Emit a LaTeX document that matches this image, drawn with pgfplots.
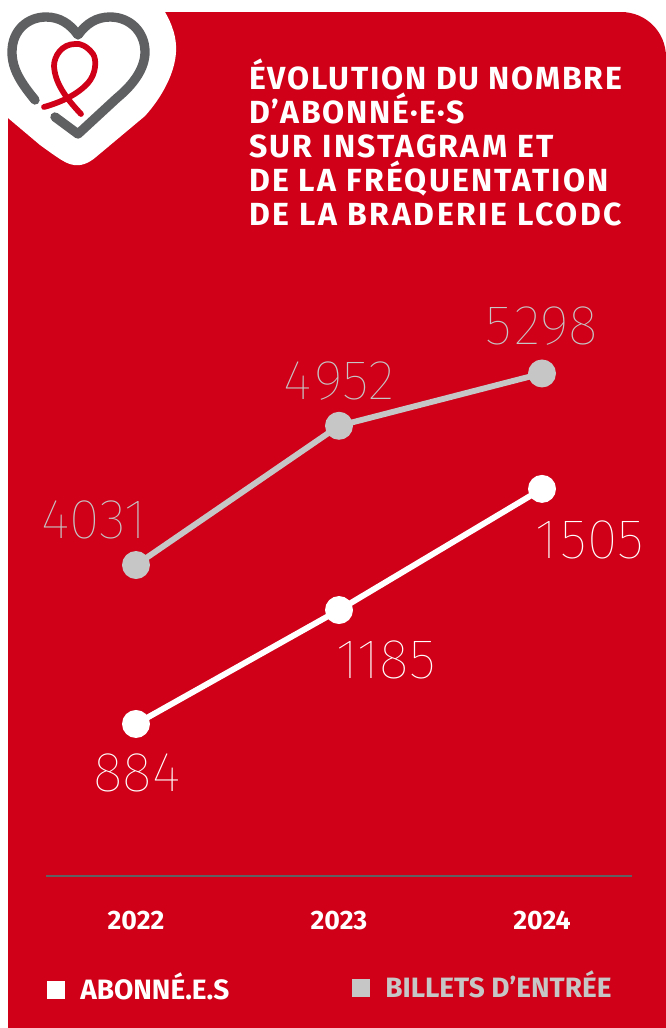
\documentclass[border=0pt]{standalone}
\usepackage{pgfplots}
\pgfplotsset{compat=1.18}
\usepackage{pgfplotstable}
\usepackage{fontspec}
\setmainfont{Fira Sans}
\newfontfamily\thinf{Fira Sans Thin}
\newfontfamily\boldf[LetterSpace=7]{Fira Sans Bold}
\newfontfamily\boldfa[LetterSpace=5.5]{Fira Sans Bold}
\newfontfamily\boldfb[LetterSpace=8]{Fira Sans Bold}
\newfontfamily\boldn{Fira Sans Bold}
\definecolor{lcred}{HTML}{CF0018}
\definecolor{lcgrey}{HTML}{C6C6C6}
\definecolor{lcdark}{HTML}{5F6062}
\pgfplotstableread{
x y lab dx dy
0 4031 4031 -42 45
1 4952 4\kern2pt952 0 45
2 5298 5\kern2pt298 0 47
}\billets
\pgfplotstableread{
x y lab dx dy
0 884 884 1 -49
1 1185 1185 47 -50
2 1505 1\kern2pt505 48 -51
}\abonnes
\pgfplotsset{
  base/.style={
    at={(34.5pt,-657pt)}, anchor=south west,
    scale only axis, width=439.5pt, height=432pt,
    xmin=-0.4433, xmax=2.4433,
    clip=false,
    visualization depends on={0.75*\thisrow{dx} \as \dxv},
    visualization depends on={0.75*\thisrow{dy} \as \dyv},
    nodes near coords,
    point meta=explicit symbolic,
    every node near coord/.append style={
      anchor=center, inner sep=0pt, xshift=\dxv pt, yshift=\dyv pt,
      font=\thinf\fontsize{42}{42}\selectfont},
  },
}
\begin{document}
\begin{tikzpicture}
\begin{scope}[x=0.75pt,y=-0.75pt]
\useasboundingbox (0,0) rectangle (666,1028);
\fill[white] (0,0) rectangle (666,1028);
\fill[lcred] (8,12) -- (621,12) .. controls (646,12) and (666,32) .. (666,57) -- (666,1028) -- (8,1028) -- cycle;
% white blob behind the logo
\fill[white] (0,0) -- (165,0) -- (165,12) .. controls (172,24) and (177,38) .. (176,52)
  .. controls (175,72) and (163,96) .. (145,116)
  -- (96,157) .. controls (88,164) and (80,166) .. (74,165)
  .. controls (66,164) and (58,158) .. (40,145)
  -- (8,118) -- (0,118) -- cycle;
% heart
\draw[lcdark,line width=7pt,line cap=round,line join=round]
  (35,100) .. controls (22,84) and (12,70) .. (12,52)
  .. controls (12,30) and (28,17) .. (46,17)
  .. controls (60,17) and (70,24) .. (78,35)
  .. controls (86,24) and (96,17) .. (110,17)
  .. controls (130,17) and (145,32) .. (145,52)
  .. controls (145,68) and (134,84) .. (117,98)
  -- (78,134) -- (55,117);
% ribbon
\draw[lcred,line width=4.3pt,line cap=round,line join=round]
  (44,107) .. controls (62,102) and (78,94) .. (88,83)
  .. controls (96,74) and (97,60) .. (93,54)
  .. controls (87,46) and (80,43) .. (75,44)
  .. controls (62,44) and (54,56) .. (54,66)
  .. controls (55,82) and (64,96) .. (81,114);
% title
\node[anchor=base west,inner sep=0pt,align=left,text=white,
  font=\boldf\fontsize{24}{25.5}\selectfont] at (249,225)
  {{\boldfa\fontsize{24}{25.5}\selectfont ÉVOLUTION DU NOMBRE}\\{\boldfa\fontsize{24}{25.5}\selectfont D’ABONNÉ·E·S}\\SUR INSTAGRAM ET\\DE LA FRÉQUENTATION\\{\boldfb\fontsize{24}{25.5}\selectfont DE LA BRADERIE LCODC}};
% legend
\fill[white] (47,981) rectangle (65,999);
\node[anchor=base west,inner sep=0pt,text=white,font=\boldn\fontsize{21}{21}\selectfont] at (80,999) {ABONNÉ.E.S};
\fill[lcgrey] (352,979) rectangle (370,997);
\node[anchor=base west,inner sep=0pt,text=lcgrey,font=\boldn\fontsize{21}{21}\selectfont] at (385,997) {BILLETS D’ENTRÉE};
\end{scope}
% billets (own scale)
\begin{axis}[base,
  ymin=1974, ymax=5784,
  axis x line=bottom, axis y line=none,
  axis line style={-,color=lcdark,line width=1.5pt},
  xtick={0,1,2}, xticklabels={2022,2023,2024},
  major tick length=0pt,
  xticklabel style={anchor=base,yshift=-40pt,text=white,font=\boldn\fontsize{20}{20}\selectfont},
  every node near coord/.append style={text=lcgrey},
]
\addplot[lcgrey,line width=4.4pt,mark=*,mark size=8.25pt,mark options={fill=lcgrey,draw=none}]
  table[x=x,y=y,meta=lab] {\billets};
\end{axis}
% abonnes (own scale)
\begin{axis}[base,
  ymin=482.4, ymax=2004,
  hide axis,
  every node near coord/.append style={text=white},
]
\addplot[white,line width=4.4pt,mark=*,mark size=8.25pt,mark options={fill=white,draw=none}]
  table[x=x,y=y,meta=lab] {\abonnes};
\end{axis}
\end{tikzpicture}
\end{document}
